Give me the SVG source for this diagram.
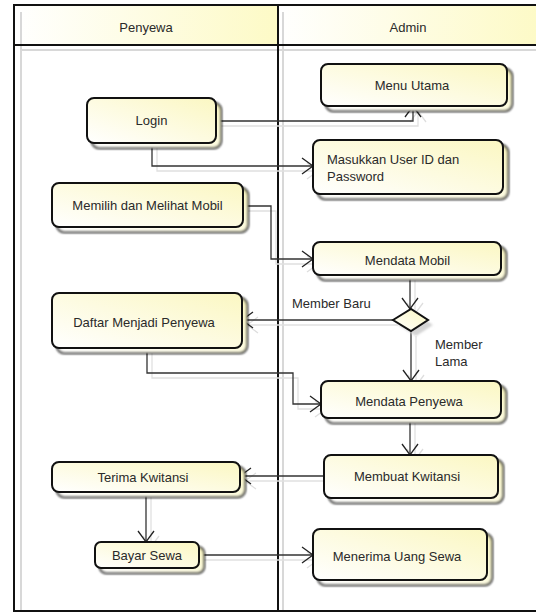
<svg xmlns="http://www.w3.org/2000/svg" width="536" height="613" viewBox="0 0 536 613">
<defs>
<linearGradient id="gNode" x1="0" y1="1" x2="1" y2="0">
<stop offset="0" stop-color="#ffffff"/>
<stop offset="1" stop-color="#fbf7c2"/>
</linearGradient>
<linearGradient id="gHead" x1="0" y1="0" x2="1" y2="0">
<stop offset="0" stop-color="#ffffff"/>
<stop offset="1" stop-color="#fdfac6"/>
</linearGradient>
<filter id="blur" x="-10%" y="-10%" width="130%" height="140%">
<feGaussianBlur stdDeviation="1.2"/>
</filter>
<marker id="arr" viewBox="-12 -9 14 18" refX="0" refY="0" markerWidth="14" markerHeight="18" markerUnits="userSpaceOnUse" orient="auto">
<path d="M-11,-8 L0,0 L-11,8" fill="none" stroke="#222" stroke-width="1.3"/>
</marker>
<marker id="arrS" viewBox="-12 -9 14 18" refX="0" refY="0" markerWidth="14" markerHeight="18" markerUnits="userSpaceOnUse" orient="auto">
<path d="M-11,-8 L0,0 L-11,8" fill="none" stroke="#dedede" stroke-width="1.3"/>
</marker>
</defs>
<style>
.node rect{fill:url(#gNode);stroke:#111;stroke-width:2}
.shadow{fill:#d4d4d4;stroke:none;filter:url(#blur)}
.lbl{font-family:"Liberation Sans",Arial,sans-serif;font-size:13px;fill:#2a2a2a}
.c{text-anchor:middle}
.con path{fill:none;stroke:#333;stroke-width:1.3;marker-end:url(#arr)}
.conS path{fill:none;stroke:#e0e0e0;stroke-width:1.3;marker-end:url(#arrS)}
.frame{fill:none;stroke:#111;stroke-width:2}
.gray{stroke:#d8d8d8;stroke-width:2;fill:none}
</style>
<rect x="0" y="0" width="536" height="613" fill="#ffffff"/>
<g id="swimlanes">
<rect x="14" y="5" width="264" height="40" fill="url(#gHead)"/>
<rect x="278" y="5" width="262" height="40" fill="url(#gHead)"/>
<line class="gray" x1="21" y1="12" x2="21" y2="611"/>
<line class="gray" x1="283" y1="12" x2="283" y2="611"/>
<line class="gray" x1="21" y1="50" x2="540" y2="50"/>
<path class="frame" d="M545,5 H14 V611 H545"/>
<line class="frame" x1="14" y1="45" x2="545" y2="45"/>
<line class="frame" x1="278" y1="5" x2="278" y2="611"/>
<text class="lbl c" x="146" y="32">Penyewa</text>
<text class="lbl c" x="408" y="32">Admin</text>
</g>
<g id="connectors">
<g class="conS" transform="translate(5,5)">
<path d="M216,121 H413 V106"/>
<path d="M152,143 V166 H313"/>
<path d="M243,206 H271 V259 H313"/>
<path d="M410,275 V309"/>
<path d="M393,320 H242"/>
<path d="M411,331 V381"/>
<path d="M147,348 V373 H293 V404 H321"/>
<path d="M410,418 V455"/>
<path d="M324,476 H240"/>
<path d="M146,492 V542"/>
<path d="M199,555 H313"/>
</g>
<g class="con">
<path d="M216,121 H413 V106"/>
<path d="M152,143 V166 H313"/>
<path d="M243,206 H271 V259 H313"/>
<path d="M410,275 V309"/>
<path d="M393,320 H242"/>
<path d="M411,331 V381"/>
<path d="M147,348 V373 H293 V404 H321"/>
<path d="M410,418 V455"/>
<path d="M324,476 H240"/>
<path d="M146,492 V542"/>
<path d="M199,555 H313"/>
</g>
<text class="lbl" x="292" y="308">Member Baru</text>
<text class="lbl" x="435" y="349">Member</text>
<text class="lbl" x="435" y="366">Lama</text>
</g>
<g id="n_login" class="node">
<rect class="shadow" x="92" y="103" width="129" height="45" rx="7"/>
<rect x="87" y="98" width="129" height="45" rx="7"/>
<text class="lbl c" x="151.5" y="125">Login</text>
</g>
<g id="n_menu_utama" class="node">
<rect class="shadow" x="326" y="69" width="186" height="42" rx="7"/>
<rect x="321" y="64" width="186" height="42" rx="7"/>
<text class="lbl c" x="412" y="90">Menu Utama</text>
</g>
<g id="n_masukkan" class="node">
<rect class="shadow" x="318" y="145" width="190" height="54" rx="7"/>
<rect x="313" y="140" width="190" height="54" rx="7"/>
<text class="lbl" x="327" y="163.5">Masukkan User ID dan</text>
<text class="lbl" x="327" y="180.5">Password</text>
</g>
<g id="n_memilih" class="node">
<rect class="shadow" x="57" y="188" width="191" height="44" rx="7"/>
<rect x="52" y="183" width="191" height="44" rx="7"/>
<text class="lbl c" x="147.5" y="209.5">Memilih dan Melihat Mobil</text>
</g>
<g id="n_mendata_mobil" class="node">
<rect class="shadow" x="318" y="247" width="188" height="33" rx="7"/>
<rect x="313" y="242" width="188" height="33" rx="7"/>
<text class="lbl c" x="407.5" y="265">Mendata Mobil</text>
</g>
<g id="n_decision" class="node">
<polygon points="398,325 416,314 433,325 416,336" fill="#d4d4d4" filter="url(#blur)"/>
<polygon points="393,320 411,309 428,320 411,331" fill="url(#gNode)" stroke="#111" stroke-width="2"/>
</g>
<g id="n_daftar" class="node">
<rect class="shadow" x="57" y="298" width="190" height="55" rx="7"/>
<rect x="52" y="293" width="190" height="55" rx="7"/>
<text class="lbl c" x="144" y="327">Daftar Menjadi Penyewa</text>
</g>
<g id="n_mendata_penyewa" class="node">
<rect class="shadow" x="326" y="386" width="180" height="37" rx="7"/>
<rect x="321" y="381" width="180" height="37" rx="7"/>
<text class="lbl c" x="409" y="405.5">Mendata Penyewa</text>
</g>
<g id="n_membuat_kwitansi" class="node">
<rect class="shadow" x="329" y="460" width="174" height="43" rx="7"/>
<rect x="324" y="455" width="174" height="43" rx="7"/>
<text class="lbl c" x="407" y="481">Membuat Kwitansi</text>
</g>
<g id="n_terima_kwitansi" class="node">
<rect class="shadow" x="57" y="467" width="188" height="30" rx="7"/>
<rect x="52" y="462" width="188" height="30" rx="7"/>
<text class="lbl c" x="143" y="482">Terima Kwitansi</text>
</g>
<g id="n_bayar_sewa" class="node">
<rect class="shadow" x="100" y="547" width="104" height="26" rx="6"/>
<rect x="95" y="542" width="104" height="26" rx="6"/>
<text class="lbl c" x="147" y="559.5">Bayar Sewa</text>
</g>
<g id="n_menerima_uang" class="node">
<rect class="shadow" x="318" y="534" width="174" height="51" rx="7"/>
<rect x="313" y="529" width="174" height="51" rx="7"/>
<text class="lbl c" x="397" y="561">Menerima Uang Sewa</text>
</g>
</svg>
